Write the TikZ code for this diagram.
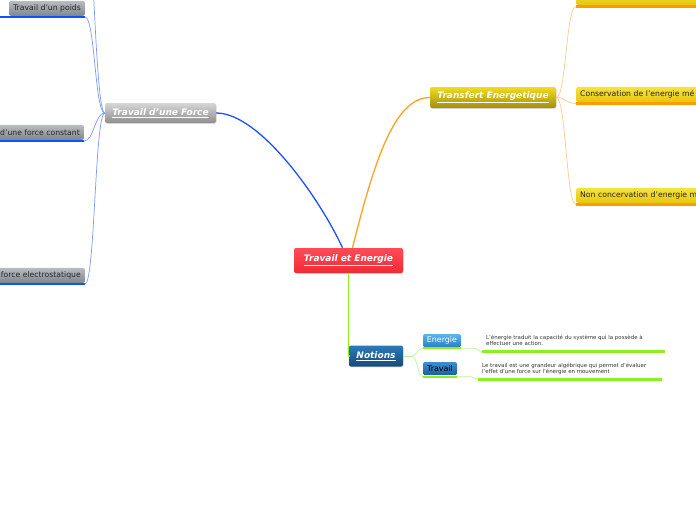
\documentclass[tikz,border=0pt]{standalone}
\usepackage{fontspec}
\setmainfont{DejaVu Sans}
\usetikzlibrary{positioning,shadows}
\definecolor{mmred}{HTML}{FB3442}
\definecolor{mmredtop}{HTML}{FF4B56}
\definecolor{mmredbot}{HTML}{F02B38}
\definecolor{mmblue}{HTML}{1F4FFF}
\definecolor{mmdeep}{HTML}{0A55FF}
\definecolor{mmpale}{HTML}{7C98FF}
\definecolor{mmorange}{HTML}{FFA11F}
\definecolor{mmamber}{HTML}{FF9A00}
\definecolor{mmpeach}{HTML}{FFC98A}
\definecolor{mmlime}{HTML}{8CF01E}
\definecolor{mmmint}{HTML}{BDF39A}
\definecolor{mmgrey}{HTML}{989898}
\definecolor{mmgreytop}{HTML}{D6D6D6}
\definecolor{mmgreybot}{HTML}{8E8E8E}
\definecolor{mmolive}{HTML}{A08F0E}
\definecolor{mmgold}{HTML}{F2DC1F}
\definecolor{mmmust}{HTML}{C9B515}
\definecolor{mmnavytop}{HTML}{2C7AB6}
\definecolor{mmnavybot}{HTML}{174A78}
\definecolor{mmslatetop}{HTML}{B9BDC1}
\definecolor{mmslatebot}{HTML}{7F878D}
\definecolor{mmyeltop}{HTML}{F5E33E}
\definecolor{mmyelbot}{HTML}{E6C70E}
\definecolor{mmskytop}{HTML}{5CB4EE}
\definecolor{mmskybot}{HTML}{2A7FC2}
\definecolor{mmseatop}{HTML}{3D8FD0}
\definecolor{mmseabot}{HTML}{1D5F9C}

\begin{document}
\begin{tikzpicture}[x=1pt, y=-1pt,
    topic/.style={rounded corners=2pt, inner sep=0pt, text=white, font=\fontsize{9}{10}\selectfont\bfseries\itshape,
      drop shadow={opacity=0.25, shadow xshift=0.6pt, shadow yshift=-0.8pt}},
    leaf/.style={rounded corners=1.5pt, inner xsep=4pt, inner ysep=0pt, minimum height=15pt, font=\fontsize{7.7}{9}\selectfont, text=black!85},
    gleaf/.style={leaf, top color=mmslatetop, bottom color=mmslatebot},
    yleaf/.style={leaf, top color=mmyeltop, bottom color=mmyelbot, text width=130pt, align=left},
    bleaf/.style={rounded corners=1.5pt, inner sep=0pt, minimum height=13pt, font=\fontsize{7.9}{9}\selectfont},
    note/.style={inner sep=0pt, align=left, font=\fontsize{5.45}{6}\selectfont, text=black!80},
    main/.style={line width=1.3pt},
    twig/.style={line width=0.7pt},
    under/.style={line width=2.2pt}
]
\useasboundingbox (0,0) rectangle (696,520);
\clip (0,0) rectangle (696,520);

% central topic
\node[topic, top color=mmredtop, bottom color=mmredbot, minimum width=109pt, minimum height=25pt] (centre) at (348.5,260.5) {\underline{Travail et Energie}};

% main topics
\node[topic, top color=mmgreytop, middle color=mmgrey, bottom color=mmgreybot, minimum width=111pt, minimum height=20pt] (force) at (160.5,113) {\underline{Travail d'une Force}};
\node[topic, top color=mmgold, middle color=mmmust, bottom color=mmolive, minimum width=126pt, minimum height=21pt] (transfert) at (493,97.5) {\underline{Transfert Energetique}};
\node[topic, top color=mmnavytop, bottom color=mmnavybot, minimum width=54pt, minimum height=21pt] (notions) at (376,356) {\underline{Notions}};

% main connectors
\draw[main, mmblue] ([xshift=-6pt]centre.north) .. controls +(-22,-48) and +(44,0) .. (force.east);
\draw[main, mmorange] ([xshift=4pt]centre.north) .. controls +(22,-88) and +(-35,0) .. (transfert.west);
\draw[main, mmlime] (centre.south) |- (notions.west);

% Travail d'une Force: sub topics
\node[gleaf, anchor=south east] (poids) at (85,16) {Travail d'un poids};
\node[gleaf, anchor=south east] (constant) at (84,140) {d'une force constant};
\node[gleaf, anchor=south east] (electro) at (85,283) {force electrostatique};
\coordinate (offleft) at (85,-100);

\foreach \n in {poids,constant,electro}{
  \draw[under, mmdeep] ([yshift=-1pt]\n.south east) -- ([yshift=-1pt]\n.south east -| 0,0);
  \draw[twig, mmpale] (force.west) .. controls +(-10,0) and +(10,0) .. ([yshift=-1pt]\n.south east);
}
\draw[twig, mmpale] (force.west) .. controls +(-10,0) and +(8,0) .. (offleft);

% Transfert Energetique: sub topics
\node[yleaf, anchor=south west] (upper) at (576,5) {};
\node[yleaf, anchor=south west] (conserv) at (576,102) {Conservation de l'energie mé};
\node[yleaf, anchor=south west] (nonconserv) at (576,203) {Non concervation d'energie m};

\foreach \n in {upper,conserv,nonconserv}{
  \draw[under, line width=2.6pt, mmamber] ([yshift=-1.5pt]\n.south west) -- ++(140,0);
  \draw[twig, mmpeach] (transfert.east) .. controls +(10,0) and +(-10,0) .. ([yshift=-1.5pt]\n.south west);
}

% Notions: sub topics
\node[bleaf, top color=mmskytop, bottom color=mmskybot, text=white, minimum width=38pt] (energie) at (442,340.5) {Energie};
\node[bleaf, top color=mmseatop, bottom color=mmseabot, text=black, minimum width=34pt] (travail) at (440,368.5) {Travail};

\node[note, anchor=north west] (defenergie) at (486,334.5) {L'énergie traduit la capacité du système qui la possède à\\effectuer une action.};
\node[note, anchor=north west] (deftravail) at (482,363) {Le travail est une grandeur algébrique qui permet d'évaluer\\l'effet d'une force sur l'énergie en mouvement};

\coordinate (split) at (412,356);
\coordinate (eline) at (482,351.5);
\coordinate (tline) at (478,379.5);
\draw[twig, mmmint] (notions.east) -- (split);
\draw[twig, mmmint] (split) .. controls +(5,0) and +(-5,0) .. ([yshift=-1pt]energie.south west) -- ([yshift=-1pt]energie.south east) -- ++(12,0) .. controls +(4,0) and +(-4,0) .. (eline);
\draw[twig, mmmint] (split) .. controls +(5,0) and +(-5,0) .. ([yshift=-1.5pt]travail.south west) -- ([yshift=-1.5pt]travail.south east) -- ++(14,0) .. controls +(3,0) and +(-3,0) .. (tline);
\draw[under, mmlime] ([yshift=-1pt]energie.south west) -- ([yshift=-1pt]energie.south east);
\draw[under, mmlime] ([yshift=-1.5pt]travail.south west) -- ([yshift=-1.5pt]travail.south east);
\draw[under, line width=2.4pt, mmlime] (eline) -- (eline -| 665,0);
\draw[under, line width=2.4pt, mmlime] (tline) -- (tline -| 662,0);
\end{tikzpicture}
\end{document}
